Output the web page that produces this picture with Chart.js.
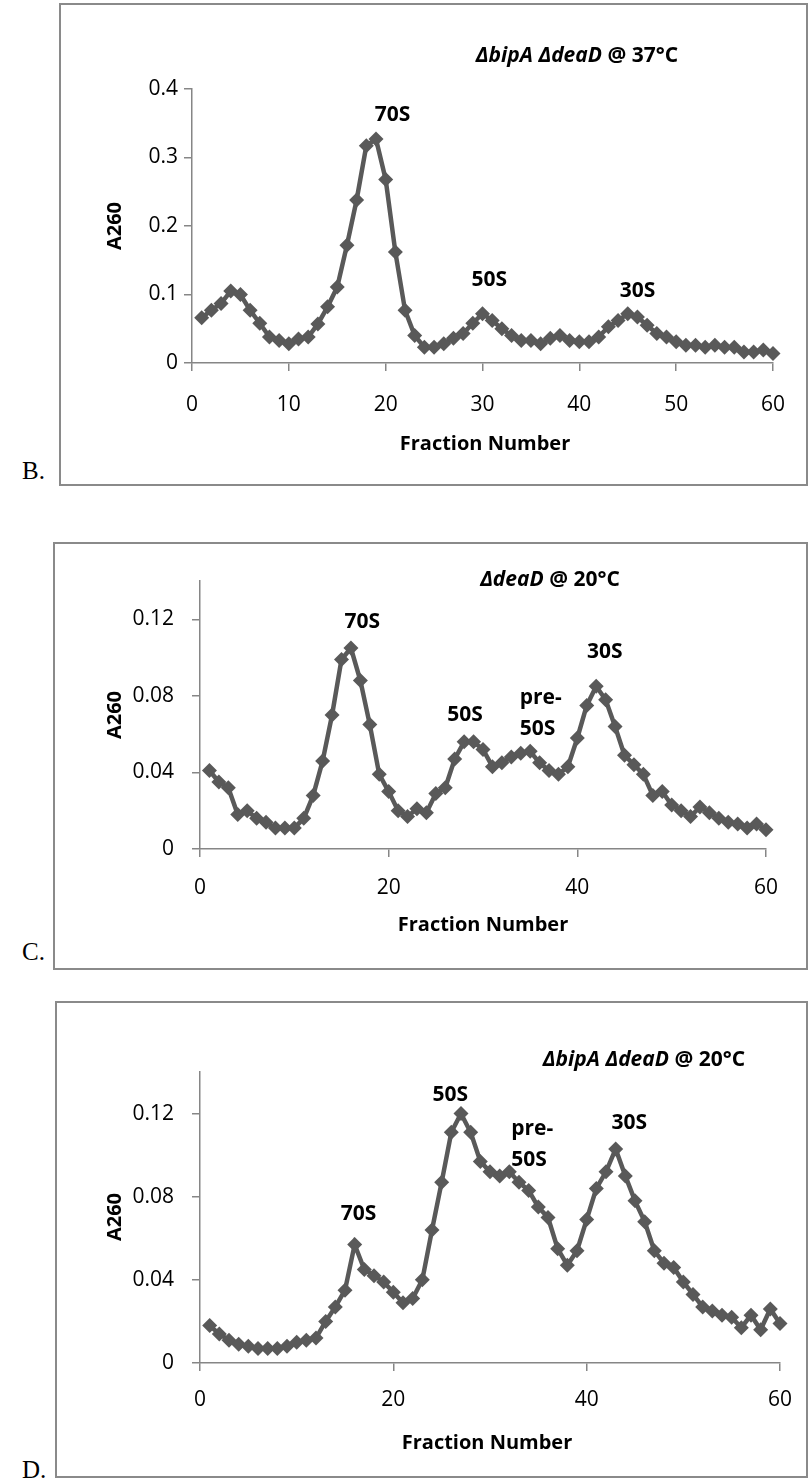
<!DOCTYPE html>
<html>
<head>
<meta charset="utf-8">
<script src="https://cdn.jsdelivr.net/npm/chart.js@4.4.1/dist/chart.umd.min.js"></script>
<style>
  html, body { margin: 0; padding: 0; background: #fff; }
  #page { position: relative; width: 809px; height: 1483px; overflow: hidden; }
  .box { position: absolute; border: 2px solid #8a8a8a; box-sizing: border-box; }
  .panel { position: absolute; }
  .panel canvas { display: block; }
  .letter { position: absolute; font-family: "Liberation Serif", serif; font-size: 25px; color: #000; line-height: 1; }
</style>
</head>
<body>
<div id="page"></div>
<script>
// fraction numbers (x values)
const fractions = [1,2,3,4,5,6,7,8,9,10,11,12,13,14,15,16,17,18,19,20,
                   21,22,23,24,25,26,27,28,29,30,31,32,33,34,35,36,37,38,39,40,
                   41,42,43,44,45,46,47,48,49,50,51,52,53,54,55,56,57,58,59,60];

// A260 readings, one per fraction
const bipaDeadAt37 = [0.066,0.077,0.087,0.105,0.100,0.077,0.058,0.038,0.033,0.028,
                      0.035,0.038,0.057,0.082,0.111,0.172,0.238,0.317,0.327,0.268,
                      0.162,0.077,0.040,0.023,0.023,0.028,0.036,0.043,0.058,0.072,
                      0.062,0.050,0.040,0.033,0.033,0.028,0.036,0.040,0.033,0.031,
                      0.031,0.038,0.053,0.062,0.072,0.067,0.055,0.043,0.038,0.031,
                      0.026,0.026,0.023,0.026,0.023,0.023,0.016,0.016,0.019,0.014];

const deadAt20 = [0.041,0.035,0.032,0.018,0.020,0.016,0.014,0.011,0.011,0.011,
                  0.016,0.028,0.046,0.070,0.099,0.105,0.088,0.065,0.039,0.030,
                  0.020,0.017,0.021,0.019,0.029,0.032,0.047,0.056,0.056,0.052,
                  0.043,0.045,0.048,0.050,0.051,0.045,0.041,0.039,0.043,0.058,
                  0.075,0.085,0.078,0.064,0.049,0.044,0.039,0.028,0.030,0.023,
                  0.020,0.017,0.022,0.019,0.016,0.014,0.013,0.011,0.013,0.010];

const bipaDeadAt20 = [0.018,0.014,0.011,0.009,0.008,0.007,0.007,0.007,0.008,0.010,
                      0.011,0.012,0.020,0.027,0.035,0.057,0.045,0.042,0.039,0.034,
                      0.029,0.031,0.040,0.064,0.087,0.111,0.120,0.111,0.097,0.092,
                      0.090,0.092,0.087,0.083,0.075,0.070,0.055,0.047,0.054,0.069,
                      0.084,0.092,0.103,0.090,0.078,0.068,0.054,0.048,0.046,0.039,
                      0.033,0.027,0.025,0.023,0.022,0.017,0.023,0.016,0.026,0.019];

// axis tick settings
const yTicksB = { max: 0.4, step: 0.1, last: 0.4, decimals: 1 };
const yTicksCD = { max: 0.14, step: 0.04, last: 0.12, decimals: 2 };
const xTicksB = { max: 60, step: 10 };
const xTicksCD = { max: 60, step: 20 };

// peak labels, placed in data coordinates
const peaksB = [
  { text: '70S', x: 20.7, y: 0.362 },
  { text: '50S', x: 30.7, y: 0.121 },
  { text: '30S', x: 46.0, y: 0.105 }
];
const peaksC = [
  { text: '70S', x: 17.2, y: 0.1184 },
  { text: '50S', x: 28.1, y: 0.0699 },
  { text: 'pre-\n50S', x: 33.9, y: 0.0788, align: 'left' },
  { text: '30S', x: 42.9, y: 0.1028 }
];
const peaksD = [
  { text: '50S', x: 25.9, y: 0.1291 },
  { text: '70S', x: 16.4, y: 0.0715 },
  { text: 'pre-\n50S', x: 32.2, y: 0.1126, align: 'left' },
  { text: '30S', x: 44.4, y: 0.1155 }
];

const lineColor = '#595959';
const axisColor = '#868686';
const sans = '"Open Sans", "Liberation Sans", sans-serif';

// page layout of each panel (page pixels)
const panels = [
  {
    letter: 'B.', letterPos: [22, 458],
    box: [59, 3, 808, 486], plot: [192, 89, 773, 363],
    values: bipaDeadAt37, yTicks: yTicksB, xTicks: xTicksB, peaks: peaksB,
    title: [['ΔbipA ΔdeaD', true], [' @ 37°C', false]], titlePos: [577, 56],
    yTitlePos: [115, 226], xTitlePos: [485, 444], yPad: 6, xPad: 21
  },
  {
    letter: 'C.', letterPos: [22, 939],
    box: [53, 542, 808, 970], plot: [200, 581, 766, 849],
    values: deadAt20, yTicks: yTicksCD, xTicks: xTicksCD, peaks: peaksC,
    title: [['ΔdeaD', true], [' @ 20°C', false]], titlePos: [550, 580],
    yTitlePos: [115, 715], xTitlePos: [483, 925], yPad: 18, xPad: 18
  },
  {
    letter: 'D.', letterPos: [22, 1457],
    box: [55, 1001, 808, 1478], plot: [200, 1072, 785, 1363],
    values: bipaDeadAt20, yTicks: yTicksCD, xTicks: xTicksCD, peaks: peaksD,
    title: [['ΔbipA ΔdeaD', true], [' @ 20°C', false]], titlePos: [644, 1060],
    yTitlePos: [115, 1217], xTitlePos: [487, 1443], yPad: 18, xPad: 16
  }
];

const panelText = {
  id: 'panelText',
  afterDraw(chart, args, opts) {
    const p = opts.panel;
    const ctx = chart.ctx;
    const xs = chart.scales.x, ys = chart.scales.y;
    const ox = p.box[0], oy = p.box[1];
    ctx.save();
    ctx.fillStyle = '#000';
    ctx.textBaseline = 'middle';

    // peak labels
    ctx.font = 'bold 21px ' + sans;
    p.peaks.forEach(function (pk) {
      ctx.textAlign = pk.align || 'center';
      const px = xs.getPixelForValue(pk.x);
      const py = ys.getPixelForValue(pk.y);
      pk.text.split('\n').forEach(function (line, i) {
        ctx.fillText(line, px, py + i * 31);
      });
    });

    // title, italic gene names and upright rest
    ctx.textAlign = 'left';
    const fonts = p.title.map(function (t) {
      return (t[1] ? 'italic ' : '') + 'bold 21px ' + sans;
    });
    let total = 0;
    p.title.forEach(function (t, i) { ctx.font = fonts[i]; total += ctx.measureText(t[0]).width; });
    let tx = p.titlePos[0] - ox - total / 2;
    p.title.forEach(function (t, i) {
      ctx.font = fonts[i];
      ctx.fillText(t[0], tx, p.titlePos[1] - oy);
      tx += ctx.measureText(t[0]).width;
    });

    // axis titles
    ctx.font = 'bold 20px ' + sans;
    ctx.textAlign = 'center';
    ctx.fillText('Fraction Number', p.xTitlePos[0] - ox, p.xTitlePos[1] - oy);
    ctx.translate(p.yTitlePos[0] - ox, p.yTitlePos[1] - oy);
    ctx.rotate(-Math.PI / 2);
    ctx.fillText('A260', 0, 0);
    ctx.restore();
  }
};

const page = document.getElementById('page');

panels.forEach(function (p) {
  const w = p.box[2] - p.box[0];
  const h = p.box[3] - p.box[1];

  const frame = document.createElement('div');
  frame.className = 'box';
  frame.style.left = p.box[0] + 'px';
  frame.style.top = p.box[1] + 'px';
  frame.style.width = w + 'px';
  frame.style.height = h + 'px';
  page.appendChild(frame);

  const letter = document.createElement('div');
  letter.className = 'letter';
  letter.textContent = p.letter;
  letter.style.left = p.letterPos[0] + 'px';
  letter.style.top = p.letterPos[1] + 'px';
  page.appendChild(letter);

  const holder = document.createElement('div');
  holder.className = 'panel';
  holder.style.left = p.box[0] + 'px';
  holder.style.top = p.box[1] + 'px';
  holder.style.width = w + 'px';
  holder.style.height = h + 'px';
  const canvas = document.createElement('canvas');
  canvas.width = w;
  canvas.height = h;
  canvas.style.width = w + 'px';
  canvas.style.height = h + 'px';
  holder.appendChild(canvas);
  page.appendChild(holder);

  const points = fractions.map(function (f, i) { return { x: f, y: p.values[i] }; });

  new Chart(canvas.getContext('2d'), {
    type: 'line',
    data: {
      datasets: [{
        data: points,
        borderColor: lineColor,
        backgroundColor: lineColor,
        borderWidth: 4.5,
        pointStyle: 'rectRot',
        pointRadius: 7.5,
        pointBorderWidth: 0,
        tension: 0,
        clip: false
      }]
    },
    options: {
      responsive: false,
      animation: false,
      maintainAspectRatio: false,
      devicePixelRatio: 1,
      layout: {
        padding: {
          left: 0,
          top: p.plot[1] - p.box[1],
          right: p.box[2] - p.plot[2],
          bottom: 0
        }
      },
      plugins: {
        legend: { display: false },
        tooltip: { enabled: false },
        panelText: { panel: p }
      },
      scales: {
        x: {
          type: 'linear',
          min: 0,
          max: p.xTicks.max,
          ticks: { stepSize: p.xTicks.step, color: '#000', padding: p.xPad, font: { family: sans, size: 21 } },
          grid: { drawOnChartArea: false, drawTicks: true, tickLength: 8, color: axisColor, lineWidth: 1.5 },
          border: { display: true, color: axisColor, width: 1.5 },
          afterFit: function (s) { s.height = p.box[3] - p.plot[3]; }
        },
        y: {
          min: 0,
          max: p.yTicks.max,
          ticks: {
            stepSize: p.yTicks.step,
            color: '#000',
            padding: p.yPad,
            font: { family: sans, size: 21 },
            callback: function (v) { return v === 0 ? '0' : v.toFixed(p.yTicks.decimals); }
          },
          afterBuildTicks: function (s) {
            s.ticks = s.ticks.filter(function (t) { return t.value <= p.yTicks.last + 1e-9; });
          },
          grid: { drawOnChartArea: false, drawTicks: true, tickLength: 8, color: axisColor, lineWidth: 1.5 },
          border: { display: true, color: axisColor, width: 1.5 },
          afterFit: function (s) { s.width = p.plot[0] - p.box[0]; }
        }
      }
    },
    plugins: [panelText]
  });
});
</script>
</body>
</html>
